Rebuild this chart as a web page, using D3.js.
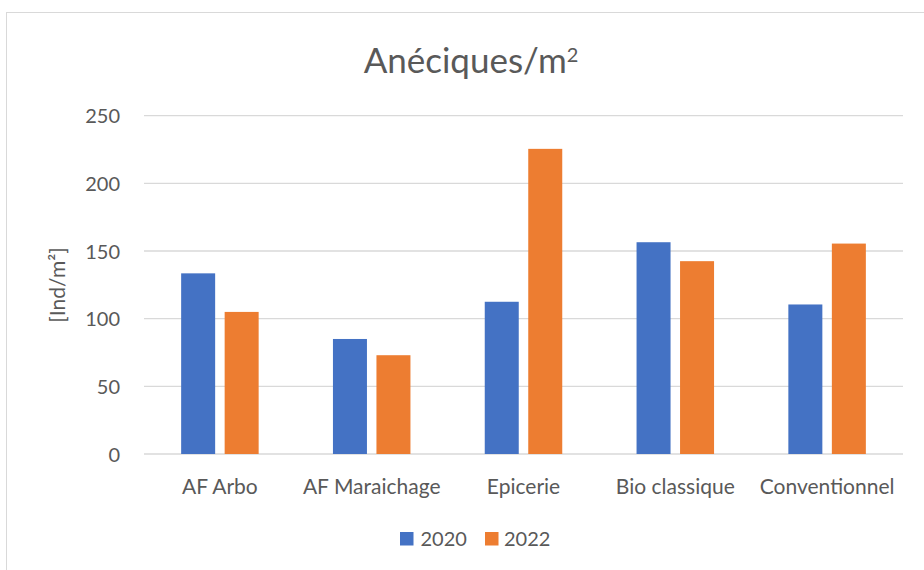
<!DOCTYPE html>
<html><head><meta charset="utf-8">
<script src="https://cdn.jsdelivr.net/npm/d3@7"></script>
<style>body{margin:0;background:#fff}svg{display:block}text{font-family:Lato,"Open Sans",sans-serif}</style>
</head><body>
<script>
const categories = ["AF Arbo","AF Maraichage","Epicerie","Bio classique","Conventionnel"];
const series = ["2020","2022"];
const values2020 = [133.5, 85, 112.5, 156.5, 110.5];
const values2022 = [105, 73, 225.5, 142.5, 155.5];
const yTicks = [0,50,100,150,200,250];
const colors = ["#4472C4","#ED7D31"];

const W=924,H=570;
const svg=d3.select("body").append("svg").attr("width",W).attr("height",H);
// chart frame
svg.append("rect").attr("x",6.5).attr("y",12.5).attr("width",W).attr("height",H)
  .attr("fill","#fff").attr("stroke","#D9D9D9").attr("stroke-width",1);

const x0=d3.scaleBand().domain(categories).range([144,903]).paddingInner(0).paddingOuter(0);
const y=d3.scaleLinear().domain([0,250]).range([454,115.7]);

// gridlines
svg.append("g").selectAll("line").data(yTicks).join("line")
  .attr("x1",144).attr("x2",903).attr("y1",d=>y(d)).attr("y2",d=>y(d))
  .attr("stroke","#D9D9D9").attr("stroke-width",1.3);

// y tick labels
svg.append("g").selectAll("text").data(yTicks).join("text")
  .attr("x",120).attr("y",d=>y(d)+7.5).attr("text-anchor","end")
  .attr("fill","#595959").attr("font-size",20).text(d=>d);

// bars
const bw=34, gap=9.5;
const data=[values2020,values2022];
data.forEach((vals,si)=>{
  svg.append("g").selectAll("rect").data(vals).join("rect")
    .attr("x",(d,i)=>x0(categories[i])+x0.bandwidth()/2+(si===0?-(bw+gap/2):gap/2))
    .attr("width",bw)
    .attr("y",d=>y(d)).attr("height",d=>y(0)-y(d))
    .attr("fill",colors[si]);
});

// x labels
svg.append("g").selectAll("text").data(categories).join("text")
  .attr("x",d=>x0(d)+x0.bandwidth()/2).attr("y",494).attr("text-anchor","middle")
  .attr("fill","#595959").attr("font-size",21).text(d=>d);

// title
const t=svg.append("text").attr("x",471).attr("y",73).attr("text-anchor","middle")
  .attr("fill","#595959").attr("font-size",35);
t.append("tspan").text("Anéciques/m");
t.append("tspan").attr("font-size",20).attr("dy",-11).text("2");

// y axis label
svg.append("text").attr("transform","translate(65,285) rotate(-90)").attr("text-anchor","middle")
  .attr("fill","#595959").attr("font-size",21).text("[Ind/m²]");

// legend
const leg=[{x:400,tx:420.5},{x:485,tx:504}];
series.forEach((s,i)=>{
  svg.append("rect").attr("x",leg[i].x).attr("y",532).attr("width",13.5).attr("height",13.5).attr("fill",colors[i]);
  svg.append("text").attr("x",leg[i].tx).attr("y",546).attr("fill","#595959").attr("font-size",20).text(s);
});
</script>
</body></html>
